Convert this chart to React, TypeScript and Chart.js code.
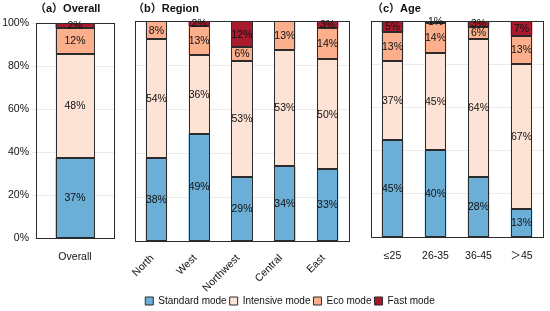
import React, { useEffect, useRef } from 'react';
import { Chart, registerables } from 'chart.js';

Chart.register(...registerables);

// ---------- data ----------
const seriesNames = ['Standard mode', 'Intensive mode', 'Eco mode', 'Fast mode'];
const seriesColors = ['#6BAED6', '#FDE3D6', '#FBAF8D', '#A81A2C'];

const overallCategories = ['Overall'];
const overallStandard = [37.2];
const overallIntensive = [48.4];
const overallEco = [12.1];
const overallFast = [2.3];

const regionCategories = ['North', 'West', 'Northwest', 'Central', 'East'];
const regionStandard = [37.7, 48.8, 29.0, 34.0, 32.6];
const regionIntensive = [54.0, 35.8, 53.0, 53.0, 50.1];
const regionEco = [8.3, 13.3, 6.0, 13.0, 14.0];
const regionFast = [0, 2.1, 12.0, 0, 3.3];

const ageCategories = ['≤25', '26-35', '36-45', '＞45'];
const ageStandard = [44.8, 40.4, 27.8, 13.1];
const ageIntensive = [36.9, 44.8, 63.9, 66.8];
const ageEco = [13.1, 14.0, 5.5, 13.3];
const ageFast = [5.2, 0.8, 2.8, 6.8];

const yTicks = [0, 20, 40, 60, 80, 100];

const FONT = '"Liberation Sans", Arial, "Noto Sans CJK SC", sans-serif';
const W = 550;
const H = 311;
const EDGE = '#2b2b2b';

// ---------- plugins ----------
const outlinePlugin = {
  id: 'segOutline',
  afterDatasetsDraw(chart: any) {
    const ctx = chart.ctx;
    ctx.save();
    ctx.strokeStyle = EDGE;
    ctx.lineWidth = 1;
    chart.data.datasets.forEach((ds: any, i: number) => {
      const meta = chart.getDatasetMeta(i);
      meta.data.forEach((el: any, j: number) => {
        const v = ds.data[j] as number;
        if (!v) return;
        const { x, y, base, width } = el.getProps(['x', 'y', 'base', 'width'], true);
        const l = Math.round(x - width / 2) + 0.5;
        const r = Math.round(x + width / 2) - 0.5;
        const t = Math.round(y) + 0.5;
        const b = Math.round(base) - 0.5;
        ctx.strokeRect(l, t, r - l, b - t);
      });
    });
    ctx.restore();
  },
};

const framePlugin = {
  id: 'frame',
  afterDatasetsDraw(chart: any) {
    const { ctx, chartArea: a } = chart;
    ctx.save();
    ctx.strokeStyle = EDGE;
    ctx.lineWidth = 1;
    ctx.strokeRect(Math.round(a.left) + 0.5, Math.round(a.top) + 0.5, Math.round(a.right - a.left), Math.round(a.bottom - a.top));
    ctx.restore();
  },
};

const segmentLabelPlugin = {
  id: 'segmentLabels',
  afterDatasetsDraw(chart: any) {
    const ctx = chart.ctx;
    ctx.save();
    ctx.font = `10.5px ${FONT}`;
    ctx.fillStyle = '#111';
    ctx.textAlign = 'center';
    ctx.textBaseline = 'middle';
    chart.data.datasets.forEach((ds: any, i: number) => {
      const meta = chart.getDatasetMeta(i);
      meta.data.forEach((el: any, j: number) => {
        const v = ds.data[j] as number;
        if (!v) return;
        const { x, y, base } = el.getProps(['x', 'y', 'base'], true);
        ctx.fillText(Math.round(v) + '%', x, (y + base) / 2 + 0.5);
      });
    });
    ctx.restore();
  },
};

const panelTitlePlugin = {
  id: 'panelTitle',
  afterDraw(chart: any, _args: any, opts: any) {
    const ctx = chart.ctx;
    ctx.save();
    ctx.font = `bold 11px ${FONT}`;
    ctx.fillStyle = '#111';
    ctx.textAlign = 'left';
    ctx.textBaseline = 'middle';
    ctx.fillText(opts.text, chart.chartArea.left + (opts.dx || 0), opts.y);
    ctx.restore();
  },
};

type Geom = { left: number; right: number; top: number; bottom: number; yAxisW: number };

function makeConfig(
  labels: string[],
  values: number[][],
  g: Geom,
  title: string,
  titleDx: number,
  showY: boolean,
  rotate: boolean,
): any {
  return {
    type: 'bar',
    data: {
      labels,
      datasets: values.map((d, i) => ({
        label: seriesNames[i],
        data: d,
        backgroundColor: seriesColors[i],
        borderWidth: 0,
        inflateAmount: 0,
        barPercentage: 1,
        categoryPercentage: 0.5,
      })),
    },
    plugins: [outlinePlugin, framePlugin, segmentLabelPlugin, panelTitlePlugin],
    options: {
      responsive: false,
      animation: false,
      devicePixelRatio: 1,
      layout: {
        padding: {
          left: g.left - g.yAxisW,
          right: W - g.right,
          top: g.top,
          bottom: 0,
        },
      },
      plugins: {
        legend: { display: false },
        tooltip: { enabled: false },
        panelTitle: { text: title, dx: titleDx, y: 9 },
      },
      scales: {
        x: {
          stacked: true,
          grid: { display: false },
          border: { display: false },
          ticks: {
            padding: rotate ? 3 : 5,
            labelOffset: rotate ? -4 : 0,
            maxRotation: rotate ? 45 : 0,
            minRotation: rotate ? 45 : 0,
            color: '#111',
            font: { family: FONT, size: 10.5 },
          },
          afterFit: (s: any) => {
            s.height = H - g.bottom;
          },
        },
        y: {
          stacked: true,
          min: 0,
          max: 100,
          afterBuildTicks: (s: any) => {
            s.ticks = yTicks.map((v) => ({ value: v }));
          },
          grid: {
            color: '#ebebeb',
            drawTicks: showY,
            tickLength: 4,
          },
          border: { display: false },
          ticks: {
            display: showY,
            padding: 3,
            color: '#111',
            font: { family: FONT, size: 10.5 },
            callback: (v: any) => v + '%',
          },
          afterFit: (s: any) => {
            s.width = g.yAxisW;
          },
        },
      },
    },
  };
}

function legendConfig(): any {
  return {
    type: 'bar',
    data: {
      labels: [],
      datasets: seriesNames.map((n, i) => ({
        label: n,
        data: [],
        backgroundColor: seriesColors[i],
        borderColor: EDGE,
        borderWidth: 1,
      })),
    },
    options: {
      responsive: false,
      animation: false,
      devicePixelRatio: 1,
      layout: { padding: 0 },
      scales: { x: { display: false }, y: { display: false } },
      plugins: {
        tooltip: { enabled: false },
        legend: {
          display: true,
          position: 'top',
          labels: {
            boxWidth: 8,
            boxHeight: 8,
            padding: 3,
            color: '#111',
            font: { family: FONT, size: 10 },
          },
        },
      },
    },
  };
}

function Layer({ config, style, width, height }: { config: any; style?: any; width: number; height: number }) {
  const ref = useRef<HTMLCanvasElement>(null);
  useEffect(() => {
    if (!ref.current) return;
    const c = new Chart(ref.current, config);
    return () => c.destroy();
  }, []);
  return (
    <canvas
      ref={ref}
      width={width}
      height={height}
      style={{ position: 'absolute', width, height, pointerEvents: 'none', ...style }}
    />
  );
}

export default function App() {
  const cfgA = makeConfig(
    overallCategories,
    [overallStandard, overallIntensive, overallEco, overallFast],
    { left: 36, right: 114, top: 23, bottom: 238, yAxisW: 36 },
    '（a）Overall',
    -1,
    true,
    false,
  );
  const cfgB = makeConfig(
    regionCategories,
    [regionStandard, regionIntensive, regionEco, regionFast],
    { left: 135, right: 349, top: 21, bottom: 241, yAxisW: 0 },
    '（b）Region',
    -2,
    false,
    true,
  );
  const cfgC = makeConfig(
    ageCategories,
    [ageStandard, ageIntensive, ageEco, ageFast],
    { left: 371, right: 543, top: 21, bottom: 237, yAxisW: 0 },
    '（c）Age',
    1,
    false,
    false,
  );
  return (
    <div style={{ position: 'fixed', left: 0, top: 0, width: W, height: H, background: '#fff', overflow: 'hidden' }}>
      <Layer config={cfgA} width={W} height={H} style={{ left: 0, top: 0 }} />
      <Layer config={cfgB} width={W} height={H} style={{ left: 0, top: 0 }} />
      <Layer config={cfgC} width={W} height={H} style={{ left: 0, top: 0 }} />
      <Layer config={legendConfig()} width={510} height={60} style={{ left: 35, top: 293 }} />
    </div>
  );
}
